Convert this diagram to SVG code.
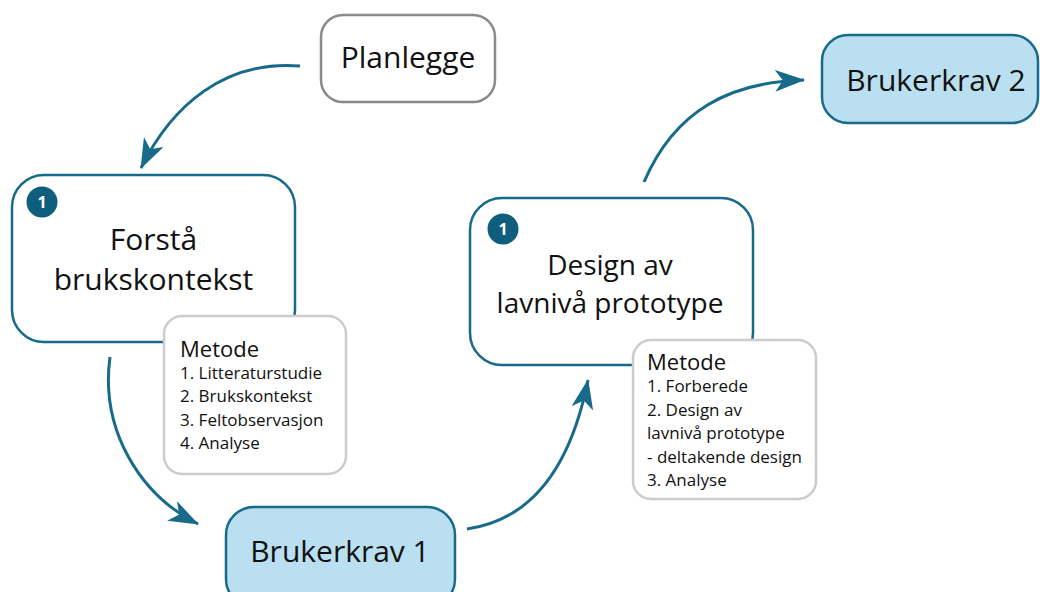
<svg xmlns="http://www.w3.org/2000/svg" width="1040" height="592" viewBox="0 0 1040 592">
  <defs>
    <style>
      .txt { font-family: "Open Sans", "Liberation Sans", sans-serif; fill: #111; }
      .big { font-size: 30px; text-anchor: middle; }
      .big2 { font-size: 28px; text-anchor: middle; }
      .head { font-size: 22px; }
      .item { font-size: 17px; }
      .phase { fill: #ffffff; stroke: #176a89; stroke-width: 2.5; }
      .req { fill: #b9dff0; stroke: #176a89; stroke-width: 2.5; }
      .plan { fill: #ffffff; stroke: #8a8a8a; stroke-width: 2.5; }
      .method { fill: #ffffff; stroke: #cccccc; stroke-width: 2.5; }
      .badge { fill: #0f5e7d; }
      .badge-num { font-family: "Open Sans", "Liberation Sans", sans-serif; font-size: 16px; font-weight: bold; fill: #ffffff; text-anchor: middle; }
      .flow { fill: none; stroke: #176a89; stroke-width: 3; }
    </style>
    <marker id="arrow" markerUnits="userSpaceOnUse" markerWidth="30" markerHeight="22" viewBox="0 0 30 22" refX="29" refY="11" orient="auto">
      <path d="M0,0 L30,11 L0,22 L8,11 Z" fill="#176a89"/>
    </marker>
  </defs>

  <!-- flow between the steps -->
  <g id="connectors">
    <path class="flow" d="M300,66 C225,60 172,105 141,168" marker-end="url(#arrow)"/>
    <path class="flow" d="M110,357 C100,430 140,495 198,524" marker-end="url(#arrow)"/>
    <path class="flow" d="M467,529 C530,520 570,470 588,380" marker-end="url(#arrow)"/>
    <path class="flow" d="M644,182 C675,110 730,82 804,80" marker-end="url(#arrow)"/>
  </g>

  <g id="planlegge">
    <rect class="plan" x="321" y="15" width="174" height="87" rx="22"/>
    <text class="txt big" x="408" y="68">Planlegge</text>
  </g>

  <g id="forsta-brukskontekst">
    <rect class="phase" x="12" y="175" width="283" height="167" rx="32"/>
    <circle class="badge" cx="42" cy="202" r="15.5"/>
    <text class="badge-num" x="42" y="208">1</text>
    <text class="txt big" x="153.5" y="250">Forstå</text>
    <text class="txt big" x="153.5" y="290">brukskontekst</text>
  </g>

  <g id="metode-1">
    <rect class="method" x="164" y="316" width="182" height="158" rx="18"/>
    <text class="txt head" x="180" y="357">Metode</text>
    <text class="txt item" x="180" y="379">1. Litteraturstudie</text>
    <text class="txt item" x="180" y="402">2. Brukskontekst</text>
    <text class="txt item" x="180" y="426">3. Feltobservasjon</text>
    <text class="txt item" x="180" y="449">4. Analyse</text>
  </g>

  <g id="brukerkrav-1">
    <rect class="req" x="226" y="507" width="229" height="100" rx="28"/>
    <text class="txt big" x="340" y="562">Brukerkrav 1</text>
  </g>

  <g id="design-lavniva-prototype">
    <rect class="phase" x="470" y="198" width="283" height="167" rx="32"/>
    <circle class="badge" cx="503" cy="229" r="15.5"/>
    <text class="badge-num" x="503" y="235">1</text>
    <text class="txt big2" x="610" y="275">Design av</text>
    <text class="txt big2" x="610" y="313">lavnivå prototype</text>
  </g>

  <g id="metode-2">
    <rect class="method" x="633" y="340" width="183" height="159" rx="18"/>
    <text class="txt head" x="647" y="370">Metode</text>
    <text class="txt item" x="647" y="392">1. Forberede</text>
    <text class="txt item" x="647" y="416">2. Design av</text>
    <text class="txt item" x="647" y="439">lavnivå prototype</text>
    <text class="txt item" x="647" y="463">- deltakende design</text>
    <text class="txt item" x="647" y="486">3. Analyse</text>
  </g>

  <g id="brukerkrav-2">
    <rect class="req" x="822" y="35" width="216" height="88" rx="26"/>
    <text class="txt big" x="936" y="91">Brukerkrav 2</text>
  </g>
</svg>
